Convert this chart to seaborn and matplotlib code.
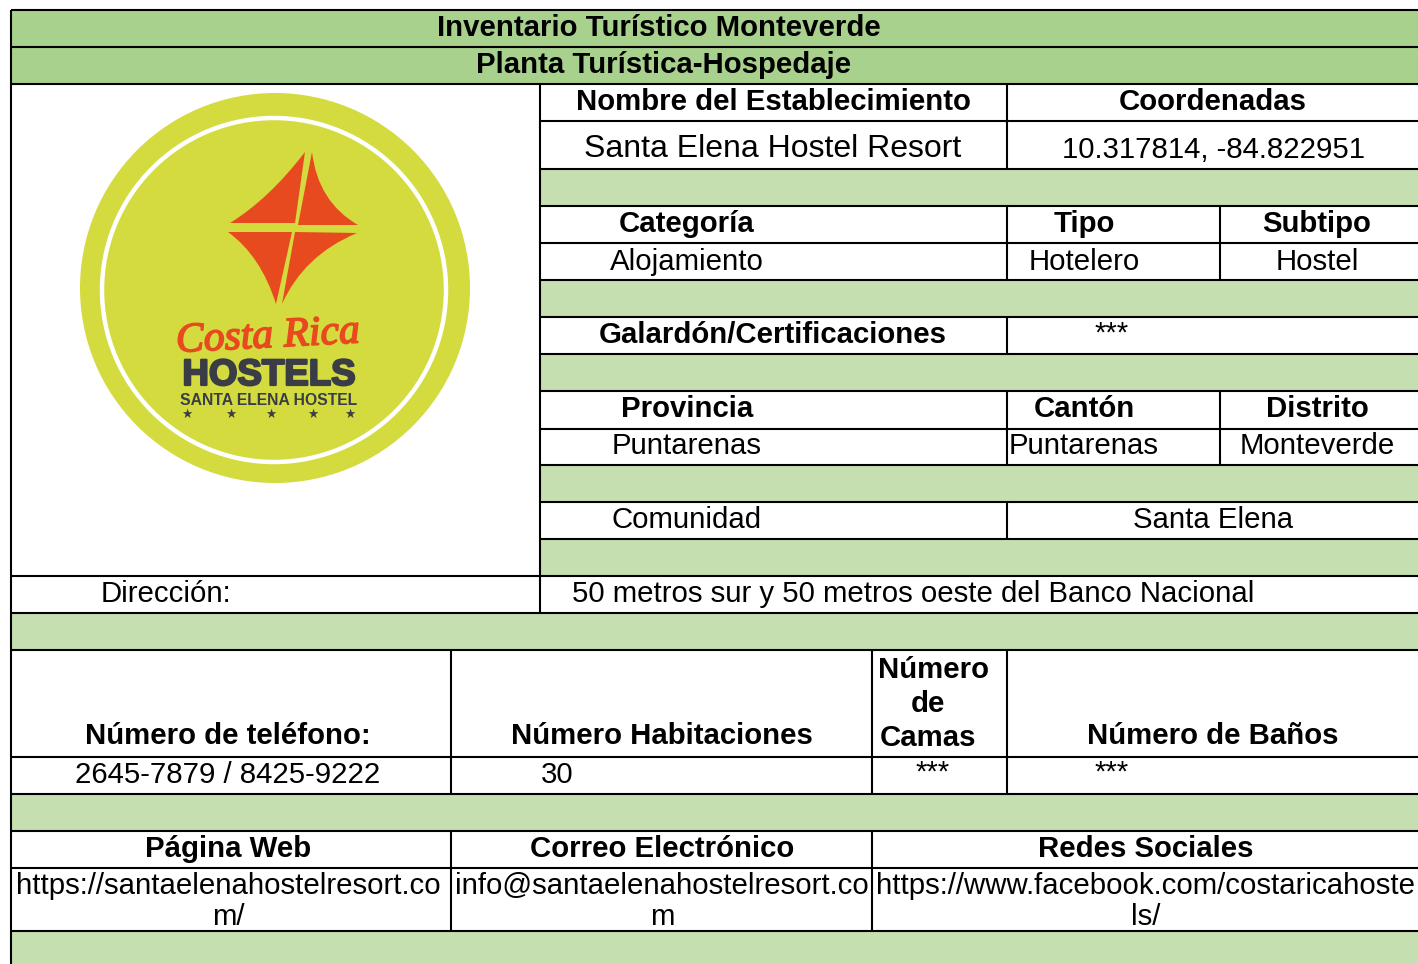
import matplotlib

matplotlib.use("Agg")
import matplotlib.patheffects as pe
import matplotlib.pyplot as plt
import seaborn as sns
from matplotlib.path import Path
from matplotlib.patches import Circle, PathPatch, Rectangle

# table text
bold_labels = [
    "Inventario Turístico Monteverde", "Planta Turística-Hospedaje",
    "Nombre del Establecimiento", "Coordenadas",
    "Categoría", "Tipo", "Subtipo",
    "Galardón/Certificaciones",
    "Provincia", "Cantón", "Distrito",
    "Número de teléfono:", "Número Habitaciones", "Número", "de", "Camas", "Número de Baños",
    "Página Web", "Correo Electrónico", "Redes Sociales",
]
plain_labels = [
    "Santa Elena Hostel Resort", "10.317814, -84.822951",
    "Alojamiento", "Hotelero", "Hostel",
    "***",
    "Puntarenas", "Puntarenas", "Monteverde",
    "Comunidad", "Santa Elena",
    "Dirección:", "50 metros sur y 50 metros oeste del Banco Nacional",
    "2645-7879 / 8425-9222", "30", "***", "***",
    "https://santaelenahostelresort.co", "m/",
    "info@santaelenahostelresort.co", "m",
    "https://www.facebook.com/costaricahoste", "ls/",
]

# layout, in pixels of the 1418x964 picture
bold_pos = [
    (659, 36), (664, 73), (773, 110), (1213, 110),
    (687, 232), (1084, 232), (1317, 232), (773, 343),
    (687, 417), (1084, 417), (1317, 417),
    (228, 744), (662, 744), (933, 678), (928, 712), (928, 746), (1213, 744),
    (228, 857), (662, 857), (1146, 857),
]
plain_pos = [
    (773, 157), (1213, 158), (687, 270), (1084, 270), (1317, 270),
    (1112, 342), (687, 454), (1084, 454), (1317, 454),
    (687, 528), (1213, 528), (166, 602), (913, 602),
    (228, 783), (557, 783), (933, 781), (1112, 781),
    (228, 894), (228, 925), (662, 894), (662, 925), (1146, 894), (1146, 925),
]
dark_bands = [(10, 47), (47, 84)]
light_bands = [
    (540, 169, 206), (540, 280, 317), (540, 354, 391), (540, 465, 502), (540, 539, 576),
    (11, 613, 650), (11, 794, 831), (11, 931, 964),
]
h_rules = [
    (11, 10), (11, 47), (11, 84), (540, 121), (540, 169), (540, 206), (540, 243), (540, 280),
    (540, 317), (540, 354), (540, 391), (540, 429), (540, 465), (540, 502), (540, 539),
    (11, 576), (11, 613), (11, 650), (11, 757), (11, 794), (11, 831), (11, 868), (11, 931),
]
v_rules = [
    (11, 10, 964), (540, 84, 613),
    (1007, 84, 169), (1007, 206, 280), (1220, 206, 280), (1007, 317, 354),
    (1007, 391, 465), (1220, 391, 465), (1007, 502, 539),
    (451, 650, 794), (872, 650, 794), (1007, 650, 794),
    (451, 831, 931), (872, 831, 931),
]

# logo quadrants: tip, inner corner, tip, control point of the curved edge
star_quads = [
    [(305, 152), (295, 223), (230, 223), (269, 199)],
    [(312, 152), (298, 225), (358, 225), (318, 202)],
    [(228, 232), (292, 232), (276, 304), (261, 256)],
    [(357, 233), (295, 232), (282, 304), (304, 255)],
]

sns.set_theme(style="white")
plt.rcParams["font.family"] = ["Liberation Sans", "DejaVu Sans"]
band_dark, band_light, logo_green, logo_orange, logo_dark = sns.color_palette(
    ["#A9D18E", "#C5DFB0", "#D4DB3F", "#E84A1F", "#3A3D45"]
)

fig = plt.figure(figsize=(14.18, 9.64), dpi=100)
ax = fig.add_axes([0, 0, 1, 1])
ax.set_xlim(0, 1418)
ax.set_ylim(964, 0)
ax.axis("off")

for top, bottom in dark_bands:
    ax.add_patch(Rectangle((11, top), 1407, bottom - top, color=band_dark, lw=0))
for left, top, bottom in light_bands:
    ax.add_patch(Rectangle((left, top), 1418 - left, bottom - top, color=band_light, lw=0))

for left, y in h_rules:
    ax.plot([left, 1418], [y, y], color="black", lw=1.5, solid_capstyle="butt")
for x, top, bottom in v_rules:
    ax.plot([x, x], [top, bottom], color="black", lw=1.5, solid_capstyle="butt")

for label, (x, y) in zip(bold_labels, bold_pos):
    ax.text(x, y, label, ha="center", va="baseline", fontsize=21.2, fontweight="bold", color="black")
for i, (label, (x, y)) in enumerate(zip(plain_labels, plain_pos)):
    ax.text(x, y, label, ha="center", va="baseline", fontsize=23 if i == 0 else 21.2, color="black")

# logo
ax.add_patch(Circle((275, 288), 195, color=logo_green, lw=0))
ax.add_patch(Circle((274, 290), 172, fill=False, ec="white", lw=3.2))
for p0, p1, p2, ctrl in star_quads:
    verts = [p0, p1, p2, ctrl, p0, p0]
    codes = [Path.MOVETO, Path.LINETO, Path.LINETO, Path.CURVE3, Path.CURVE3, Path.CLOSEPOLY]
    ax.add_patch(PathPatch(Path(verts, codes), fc=logo_orange, ec="none"))
ax.text(268, 352, "Costa Rica", ha="center", va="baseline", fontsize=30, style="italic",
        family="Liberation Serif", color=logo_orange, rotation=3,
        path_effects=[pe.withStroke(linewidth=1.2, foreground=logo_orange)])
ax.text(269, 385, "HOSTELS", ha="center", va="baseline", fontsize=26.4, fontweight="bold", color=logo_dark,
        path_effects=[pe.withStroke(linewidth=1.6, foreground=logo_dark)])
ax.text(269, 405, "SANTA ELENA HOSTEL", ha="center", va="baseline", fontsize=11.3, fontweight="bold", color=logo_dark)
for x in [187, 231, 271, 313, 350]:
    ax.text(x, 418, "★", ha="center", va="baseline", fontsize=9, family="DejaVu Sans", color=logo_dark)

fig.savefig("out.png", dpi=100, facecolor="white")
plt.close(fig)
